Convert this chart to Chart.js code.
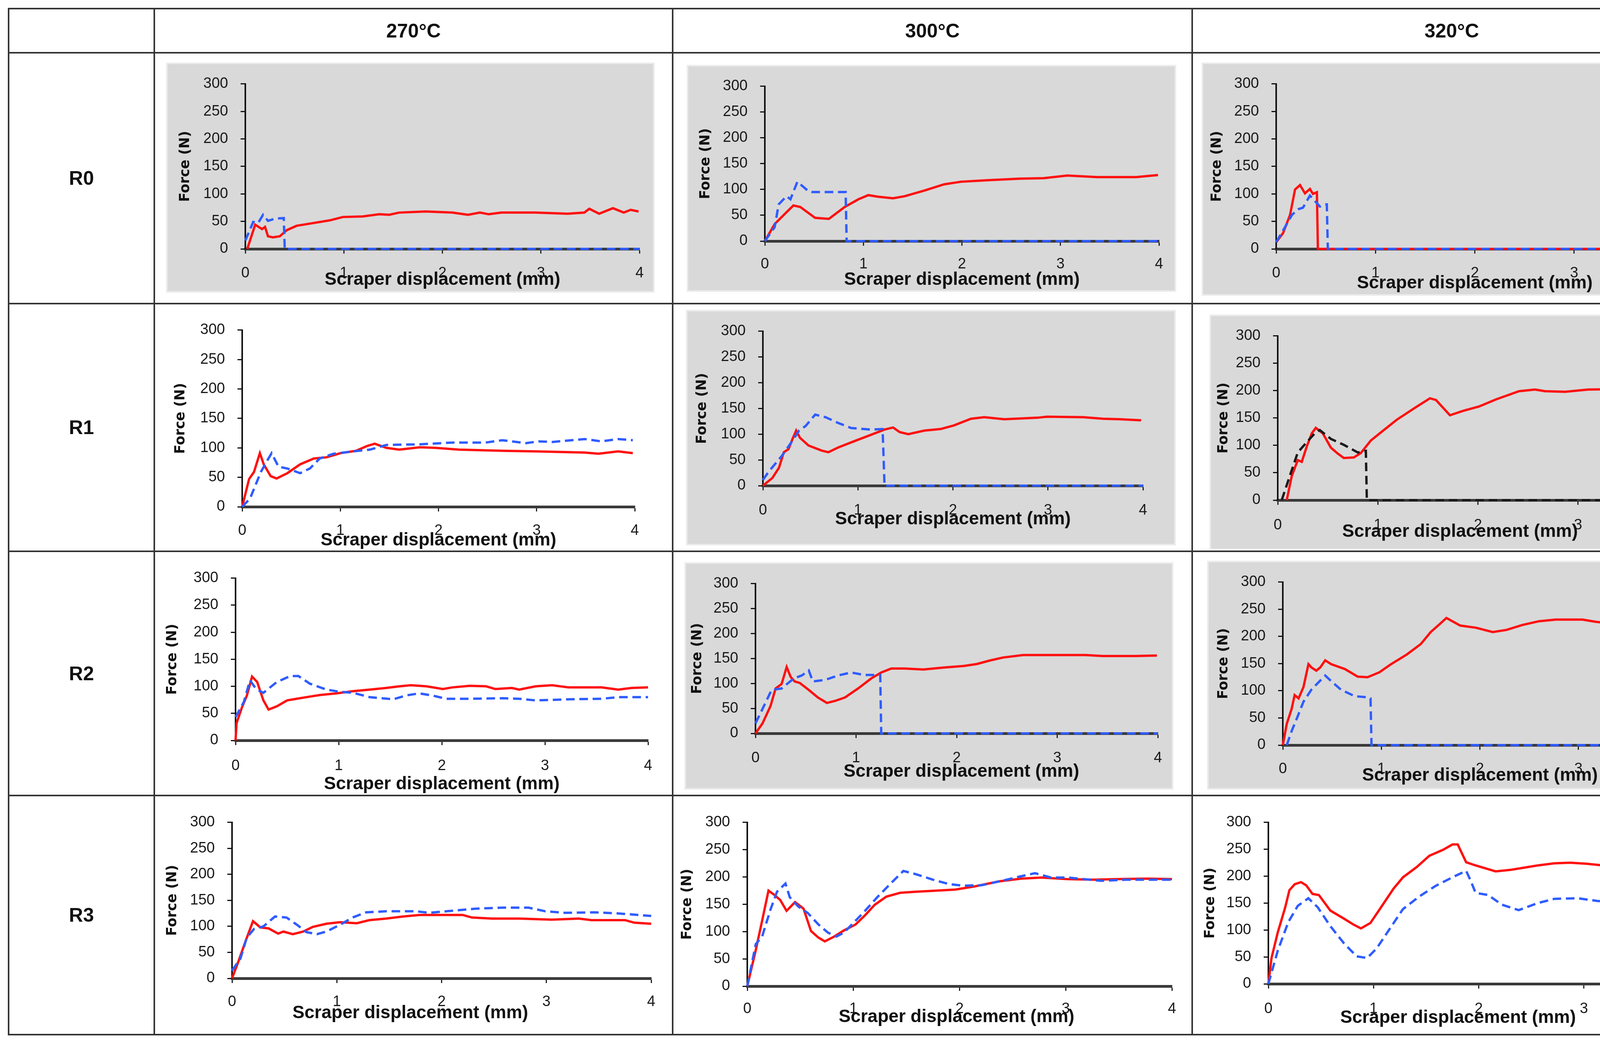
<!DOCTYPE html>
<html>
<head>
<meta charset="utf-8">
<script src="https://cdn.jsdelivr.net/npm/chart.js@4.4.0/dist/chart.umd.min.js"></script>
<style>
  html, body { margin: 0; padding: 0; background: #fff; }
  #page { position: relative; width: 4398px; height: 2672px; overflow: hidden; font-family: "Liberation Sans", Arial, sans-serif; }
  .line { position: absolute; background: #333; }
  .label { position: absolute; display: flex; align-items: center; justify-content: center; font-weight: bold; color: #111; font-size: 50px; }
  .panel { position: absolute; }
  .panel.grey { background: #d9d9d9; box-shadow: inset 0 0 0 4px #ececec; }
  .panel canvas { position: absolute; left: 0; top: 0; }
</style>
</head>
<body>
<div id="page"></div>
<script>
const temps = ["270°C", "300°C", "320°C"];
const runs = ["R0", "R1", "R2", "R3"];
const xTicks = [0, 1, 2, 3, 4];
const yTicks = [0, 50, 100, 150, 200, 250, 300];
const xTitle = "Scraper displacement (mm)";
const yTitle = "Force (N)";

// R0
const R0_270_solidX = [0.02,0.1,0.17,0.2,0.23,0.28,0.35,0.42,0.52,0.69,0.86,0.99,1.19,1.36,1.46,1.56,1.83,2.1,2.26,2.38,2.47,2.6,2.94,3.27,3.44,3.49,3.59,3.73,3.84,3.91,3.99];
const R0_270_solidY = [0,44,36,40,23,21,23,34,42,47,52,58,59,63,62,66,68,66,62,66,63,66,66,64,66,73,64,74,66,71,68];
const R0_270_dashX = [0,0.08,0.13,0.18,0.23,0.3,0.39,0.4,4];
const R0_270_dashY = [15,49,47,62,51,55,56,0,0];

const R0_300_solidX = [0,0.1,0.21,0.29,0.36,0.51,0.65,0.81,0.95,1.05,1.15,1.3,1.42,1.62,1.82,1.99,2.26,2.59,2.83,3.07,3.37,3.77,3.99];
const R0_300_solidY = [0,33,54,69,66,45,43,66,81,89,86,83,87,98,110,115,118,121,122,127,124,124,128];
const R0_300_dashX = [0,0.1,0.14,0.22,0.26,0.33,0.44,0.48,0.82,0.83,4];
const R0_300_dashY = [0,27,71,87,81,115,97,95,95,0,0];

const R0_320_solidX = [0,0.07,0.14,0.19,0.24,0.29,0.34,0.37,0.41,0.42,4];
const R0_320_solidY = [12,29,62,108,116,101,109,100,103,0,0];
const R0_320_dashX = [0,0.09,0.16,0.22,0.27,0.34,0.44,0.49,0.51,0.52,4];
const R0_320_dashY = [12,40,62,72,75,97,77,81,81,0,0];

// R1
const R1_270_solidX = [0,0.07,0.12,0.18,0.22,0.29,0.35,0.46,0.59,0.73,0.86,1.0,1.16,1.27,1.35,1.47,1.6,1.81,1.97,2.21,2.65,2.99,3.49,3.63,3.83,3.98];
const R1_270_solidY = [0,47,59,91,72,52,48,57,72,82,84,91,95,103,107,100,97,101,100,97,95,94,92,90,94,91];
const R1_270_dashX = [0,0.08,0.19,0.25,0.3,0.37,0.46,0.59,0.69,0.79,0.93,1.13,1.3,1.47,1.81,2.14,2.48,2.65,2.89,3.02,3.16,3.49,3.66,3.83,3.98];
const R1_270_dashY = [0,14,59,77,91,68,65,57,65,82,90,94,97,105,106,109,109,113,108,111,110,115,111,115,113];

const R1_300_solidX = [0,0.1,0.17,0.22,0.27,0.31,0.35,0.39,0.48,0.62,0.69,0.79,0.97,1.14,1.28,1.37,1.44,1.53,1.7,1.87,2.01,2.19,2.33,2.54,2.89,2.99,3.37,3.58,3.76,3.98];
const R1_300_solidY = [0,15,35,65,71,90,107,93,78,68,65,74,87,99,109,113,104,100,107,110,117,130,133,129,132,134,133,130,129,127];
const R1_300_dashX = [0,0.06,0.2,0.31,0.38,0.45,0.55,0.66,0.79,0.93,1.14,1.26,1.28,4];
const R1_300_dashY = [11,27,58,87,107,116,138,133,122,112,109,110,0,0];

const R1_320_solidX = [0.09,0.14,0.2,0.24,0.29,0.34,0.38,0.45,0.53,0.6,0.66,0.76,0.83,0.93,1.06,1.19,1.39,1.52,1.58,1.72,1.85,2.01,2.18,2.41,2.57,2.67,2.87,3.1,3.43,3.75,4];
const R1_320_solidY = [0,44,73,70,98,122,132,122,96,85,77,78,86,109,128,147,171,186,183,155,163,171,184,199,202,199,198,202,203,202,204];
const R1_320_dashX = [0.04,0.12,0.2,0.29,0.37,0.42,0.53,0.66,0.8,0.88,0.89,4];
const R1_320_dashY = [0,44,87,106,122,128,112,101,87,90,0,0];

// R2
const R2_270_solidX = [0,0.01,0.06,0.11,0.16,0.21,0.27,0.32,0.4,0.5,0.59,0.72,0.82,0.98,1.14,1.3,1.46,1.59,1.7,1.85,2.01,2.1,2.27,2.43,2.52,2.68,2.75,2.91,3.07,3.23,3.55,3.71,3.84,4];
const R2_270_solidY = [0,32,60,83,118,108,74,57,63,74,77,81,84,87,91,94,97,100,102,100,95,98,101,100,95,97,94,100,102,98,98,94,97,98];
const R2_270_dashX = [0,0.08,0.14,0.2,0.27,0.4,0.53,0.61,0.72,0.88,1.01,1.14,1.3,1.53,1.65,1.78,1.91,2.04,2.27,2.59,2.75,2.91,3.23,3.55,3.71,4];
const R2_270_dashY = [43,71,111,95,88,108,119,119,105,94,90,88,80,76,83,87,83,77,77,78,77,74,76,77,80,80];

const R2_300_solidX = [0,0.07,0.15,0.2,0.26,0.31,0.35,0.39,0.44,0.53,0.62,0.71,0.79,0.89,1.02,1.15,1.25,1.35,1.48,1.67,1.87,2.07,2.2,2.33,2.46,2.66,2.96,3.28,3.45,3.78,3.99];
const R2_300_solidY = [0,20,55,90,99,133,113,104,101,87,72,61,65,72,90,110,122,130,130,128,132,135,139,146,152,157,157,157,155,155,156];
const R2_300_dashX = [0,0.07,0.16,0.26,0.38,0.46,0.53,0.57,0.69,0.82,0.95,1.08,1.24,1.25,4];
const R2_300_dashY = [20,49,87,90,110,116,126,104,107,116,122,117,117,0,0];

const R2_320_solidX = [0,0.04,0.09,0.12,0.16,0.21,0.26,0.29,0.34,0.38,0.43,0.49,0.63,0.76,0.86,0.98,1.09,1.26,1.4,1.5,1.6,1.66,1.73,1.8,1.96,2.13,2.27,2.43,2.6,2.77,3.04,3.17,3.37,3.6,3.77,3.99];
const R2_320_solidY = [0,39,67,92,86,107,149,143,137,143,156,149,140,126,125,134,148,167,186,208,224,234,227,220,216,208,212,221,228,231,231,227,223,221,219,216];
const R2_320_dashX = [0.04,0.09,0.14,0.21,0.29,0.37,0.43,0.49,0.59,0.73,0.86,0.89,0.9,4];
const R2_320_dashY = [0,26,48,80,102,117,128,118,102,90,88,86,0,0];

// R3
const R3_270_solidX = [0,0.06,0.13,0.2,0.27,0.35,0.44,0.49,0.58,0.68,0.77,0.9,1.03,1.19,1.31,1.47,1.63,1.79,1.94,2.2,2.29,2.48,2.74,3.05,3.31,3.43,3.75,3.84,4];
const R3_270_solidY = [0,32,72,110,98,96,86,90,85,90,99,105,108,106,112,115,119,122,122,122,117,115,115,113,115,112,112,107,105];
const R3_270_dashX = [0,0.08,0.14,0.21,0.3,0.41,0.52,0.62,0.71,0.81,0.9,1.03,1.15,1.28,1.47,1.76,1.88,2.1,2.32,2.58,2.83,2.99,3.18,3.46,3.68,4];
const R3_270_dashY = [15,38,78,95,100,119,117,103,89,85,90,103,117,127,129,129,126,130,134,136,136,129,126,127,125,120];

const R3_300_solidX = [0,0.08,0.14,0.2,0.25,0.31,0.37,0.45,0.53,0.6,0.67,0.73,0.82,0.91,1.02,1.11,1.2,1.31,1.44,1.59,1.78,1.96,2.15,2.37,2.58,2.77,3.02,3.26,3.48,3.76,4];
const R3_300_solidY = [0,66,120,175,168,158,138,154,142,101,89,82,91,102,113,130,149,164,171,173,175,177,183,192,197,199,196,195,196,197,196];
const R3_300_dashX = [0,0.08,0.14,0.22,0.28,0.36,0.4,0.48,0.57,0.67,0.76,0.84,0.91,0.99,1.1,1.22,1.35,1.47,1.59,1.75,1.9,2.03,2.21,2.4,2.55,2.71,2.86,3.02,3.33,3.57,4];
const R3_300_dashY = [0,77,91,141,173,188,163,146,134,113,98,91,98,114,136,162,188,211,205,195,187,184,185,193,200,207,199,199,193,195,195];

const R3_320_solidX = [0,0.03,0.09,0.16,0.2,0.25,0.31,0.36,0.42,0.48,0.59,0.72,0.81,0.88,0.97,1.06,1.19,1.28,1.41,1.53,1.66,1.75,1.8,1.88,1.97,2.16,2.31,2.56,2.72,2.87,3.03,3.28,3.5,3.81,4];
const R3_320_solidY = [0,48,96,142,174,185,189,183,167,165,136,121,110,103,113,139,177,198,217,238,249,259,259,226,220,209,212,220,224,225,223,218,217,214,213];
const R3_320_dashX = [0,0.09,0.19,0.28,0.38,0.47,0.59,0.72,0.84,0.94,1.03,1.16,1.28,1.44,1.59,1.75,1.88,1.92,1.97,2.09,2.22,2.38,2.56,2.72,2.94,3.13,3.44,3.66,4];
const R3_320_dashY = [0,62,115,145,159,142,107,75,51,48,66,104,139,163,182,198,210,193,169,165,147,137,150,158,159,154,151,149,149];

const RED = "#ff1010";
const BLUE = "#2f5cff";
const BLACK_DASH = "#1a1a1a";

// which arrays belong to which cell
const seriesFor = [
  [[R0_270_solidX, R0_270_solidY, R0_270_dashX, R0_270_dashY, BLUE],
   [R0_300_solidX, R0_300_solidY, R0_300_dashX, R0_300_dashY, BLUE],
   [R0_320_solidX, R0_320_solidY, R0_320_dashX, R0_320_dashY, BLUE]],
  [[R1_270_solidX, R1_270_solidY, R1_270_dashX, R1_270_dashY, BLUE],
   [R1_300_solidX, R1_300_solidY, R1_300_dashX, R1_300_dashY, BLUE],
   [R1_320_solidX, R1_320_solidY, R1_320_dashX, R1_320_dashY, BLACK_DASH]],
  [[R2_270_solidX, R2_270_solidY, R2_270_dashX, R2_270_dashY, BLUE],
   [R2_300_solidX, R2_300_solidY, R2_300_dashX, R2_300_dashY, BLUE],
   [R2_320_solidX, R2_320_solidY, R2_320_dashX, R2_320_dashY, BLUE]],
  [[R3_270_solidX, R3_270_solidY, R3_270_dashX, R3_270_dashY, BLUE],
   [R3_300_solidX, R3_300_solidY, R3_300_dashX, R3_300_dashY, BLUE],
   [R3_320_solidX, R3_320_solidY, R3_320_dashX, R3_320_dashY, BLUE]]
];

// page layout (pixels)
const colEdges = [22, 395, 1722, 3052, 4381];
const rowEdges = [22, 135, 777, 1411, 2036, 2648];

// per cell: grey?, canvas box [x,y,w,h], plot [x0,x4,y300,y0], y title centre x, x label dy, x title dy, x title dx
const cellLayout = [
  [[true, [425,160,1251,589], [628,1640,188,637], 475, 63, 79, 0],
   [true, [1758,166,1253,581], [1958,2967,213,617], 1807, 60, 99, 0],
   [true, [3076,160,1248,597], [3267,4284,187,637], 3116, 63, 88, 0]],
  [[false, [420,790,1280,615], [620,1625,817,1297], 463, 62, 86, 0],
   [true, [1756,793,1254,603], [1953,2926,822,1243], 1798, 64, 86, 0],
   [true, [3096,805,1241,603], [3271,4303,830,1280], 3133, 65, 81, -46]],
  [[false, [420,1425,1285,609], [603,1659,1469,1895], 442, 66, 112, 0],
   [true, [1752,1439,1252,582], [1934,2967,1465,1877], 1786, 64, 98, 12],
   [true, [3090,1435,1241,586], [3284,4297,1467,1907], 3133, 62, 78, 0]],
  [[false, [420,2050,1285,590], [594,1667,2091,2504], 442, 61, 89, -80],
   [false, [1735,2050,1300,590], [1913,3010,2086,2524], 1760, 59, 79, -8],
   [false, [3065,2050,1300,590], [3247,4333,2079,2518], 3099, 65, 87, -53]]
];

const page = document.getElementById("page");

// table rules
colEdges.forEach(x => {
  const d = document.createElement("div");
  d.className = "line";
  d.style.cssText = `left:${x - 2}px;top:${rowEdges[0] - 2}px;width:4px;height:${rowEdges[rowEdges.length - 1] - rowEdges[0] + 4}px;`;
  page.appendChild(d);
});
rowEdges.forEach(y => {
  const d = document.createElement("div");
  d.className = "line";
  d.style.cssText = `left:${colEdges[0] - 2}px;top:${y - 2}px;width:${colEdges[colEdges.length - 1] - colEdges[0] + 4}px;height:4px;`;
  page.appendChild(d);
});

// header and row labels
temps.forEach((t, i) => {
  const d = document.createElement("div");
  d.className = "label";
  d.textContent = t;
  d.style.cssText = `left:${colEdges[i + 1]}px;top:${rowEdges[0]}px;width:${colEdges[i + 2] - colEdges[i + 1]}px;height:${rowEdges[1] - rowEdges[0]}px;`;
  page.appendChild(d);
});
runs.forEach((r, i) => {
  const d = document.createElement("div");
  d.className = "label";
  d.textContent = r;
  d.style.cssText = `left:${colEdges[0]}px;top:${rowEdges[i + 1]}px;width:${colEdges[1] - colEdges[0]}px;height:${rowEdges[i + 2] - rowEdges[i + 1]}px;`;
  page.appendChild(d);
});

// x axis title drawn on top of tick labels like the original
const xTitlePlugin = {
  id: "xTitle",
  afterDraw(chart, args, o) {
    const ctx = chart.ctx, a = chart.chartArea;
    ctx.save();
    ctx.font = "bold 46px 'Liberation Sans', Arial, sans-serif";
    ctx.fillStyle = "#111";
    ctx.textAlign = "center";
    ctx.textBaseline = "middle";
    ctx.fillText(o.text, (a.left + a.right) / 2 + o.dx, a.bottom + o.dy);
    ctx.restore();
  }
};

const TICK_FONT = { family: "'Liberation Sans', Arial, sans-serif", size: 38 };
const TICK_LEN = 12;

const toPoints = (xs, ys) => xs.map((x, i) => ({ x: x, y: ys[i] }));

function drawCell(r, c) {
  const [grey, box, plot, yTitleX, labDy, titleDy, titleDx] = cellLayout[r][c];
  const [sx, sy, dx, dy, dashColor] = seriesFor[r][c];
  const [bx, by, bw, bh] = box;
  const [x0, x4, yTop, yBot] = plot;

  const wrap = document.createElement("div");
  wrap.className = "panel" + (grey ? " grey" : "");
  wrap.style.cssText = `left:${bx}px;top:${by}px;width:${bw}px;height:${bh}px;`;
  const cv = document.createElement("canvas");
  cv.width = bw;
  cv.height = bh;
  wrap.appendChild(cv);
  page.appendChild(wrap);

  const yAxisW = x0 - bx;
  const xAxisH = by + bh - yBot;
  const lh = TICK_FONT.size * 1.2;

  new Chart(cv.getContext("2d"), {
    type: "line",
    data: {
      datasets: [
        {
          data: toPoints(dx, dy),
          borderColor: dashColor,
          borderWidth: 6,
          borderDash: [22, 12],
          pointRadius: 0,
          tension: 0,
          fill: false
        },
        {
          data: toPoints(sx, sy),
          borderColor: RED,
          borderWidth: 6,
          pointRadius: 0,
          tension: 0,
          fill: false
        }
      ]
    },
    options: {
      responsive: false,
      animation: false,
      devicePixelRatio: 1,
      clip: false,
      layout: { padding: { left: 0, top: yTop - by, right: bx + bw - x4, bottom: 0 } },
      plugins: {
        legend: { display: false },
        tooltip: { enabled: false },
        xTitle: { text: xTitle, dx: titleDx, dy: titleDy }
      },
      scales: {
        x: {
          type: "linear",
          min: 0,
          max: 4,
          afterBuildTicks: s => { s.ticks = xTicks.map(v => ({ value: v })); },
          afterFit: s => { s.height = xAxisH; },
          grid: { drawOnChartArea: false, drawTicks: true, tickLength: TICK_LEN, tickWidth: 3, tickColor: "#222" },
          border: { display: true, color: "#3a3a3a", width: 7 },
          ticks: { font: TICK_FONT, color: "#1a1a1a", padding: labDy - TICK_LEN - lh / 2, maxRotation: 0 }
        },
        y: {
          min: 0,
          max: 300,
          afterBuildTicks: s => { s.ticks = yTicks.map(v => ({ value: v })); },
          afterFit: s => { s.width = yAxisW; },
          grid: { drawOnChartArea: false, drawTicks: true, tickLength: TICK_LEN, tickWidth: 3, tickColor: "#111" },
          border: { display: true, color: "#111", width: 4 },
          ticks: { font: TICK_FONT, color: "#1a1a1a", padding: 32 },
          title: {
            display: true,
            text: yTitle,
            color: "#111",
            font: { family: "'DejaVu Sans', Verdana, sans-serif", weight: "bold", size: 35 },
            padding: { top: yTitleX - bx - 21, bottom: 0 }
          }
        }
      }
    },
    plugins: [xTitlePlugin]
  });
}

for (let r = 0; r < runs.length; r++) {
  for (let c = 0; c < temps.length; c++) {
    drawCell(r, c);
  }
}
</script>
</body>
</html>
